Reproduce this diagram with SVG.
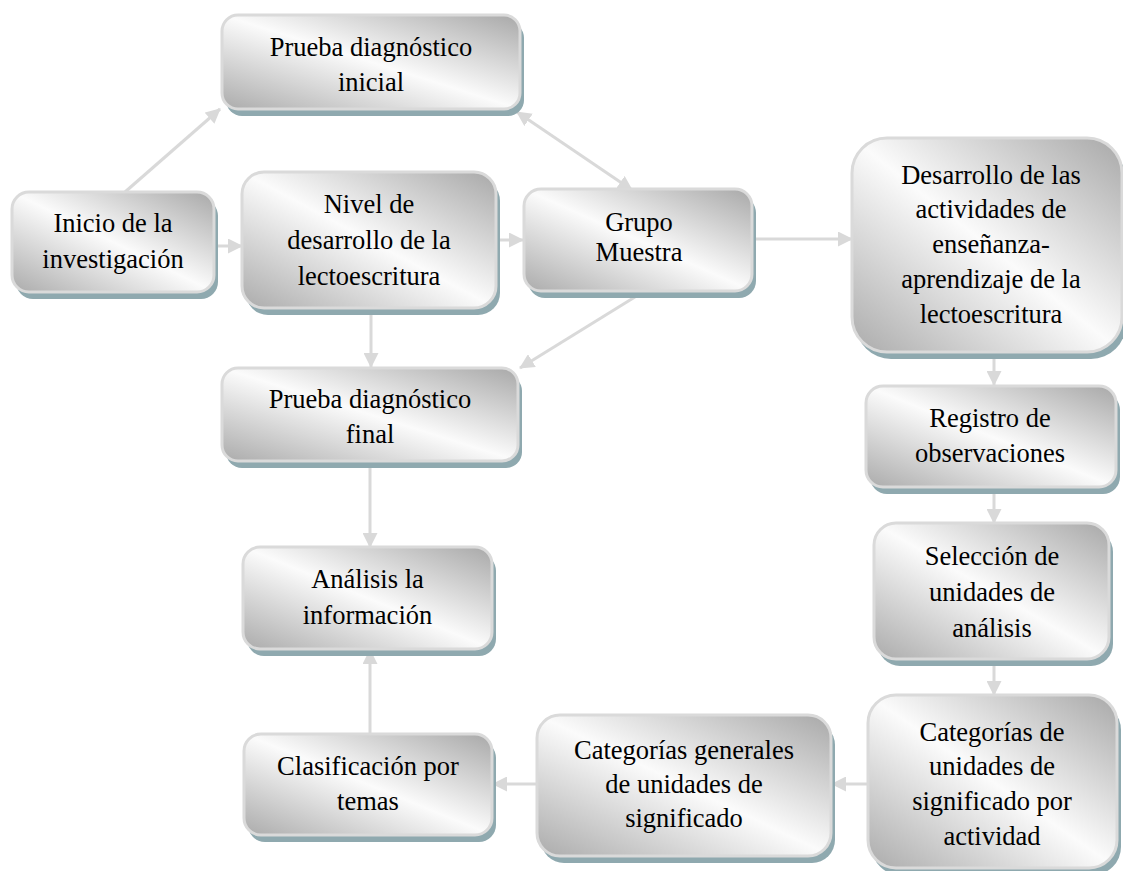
<svg xmlns="http://www.w3.org/2000/svg" width="1123" height="871" viewBox="0 0 1123 871">
<defs>
<linearGradient id="g" x1="1" y1="0" x2="0" y2="1">
<stop offset="0" stop-color="#a8a8a8"/>
<stop offset="0.5" stop-color="#fbfbfb"/>
<stop offset="1" stop-color="#ababab"/>
</linearGradient>
<marker id="ah" markerUnits="userSpaceOnUse" markerWidth="15" markerHeight="15" refX="14" refY="7.5" orient="auto-start-reverse" viewBox="0 0 15 15">
<path d="M0,0 L15,7.5 L0,15 z" fill="#d9d9d9"/>
</marker>
</defs>
<style>
.sh{fill:#8fa9af}
.bx{fill:url(#g);stroke:#dadada;stroke-width:3}
.t{font-size:26.5px;fill:#000;text-anchor:middle}
.c path{fill:none;stroke:#d9d9d9;stroke-width:3;marker-end:url(#ah)}
</style>
<rect width="1123" height="871" fill="#fff"/>
<g class="c" id="connectors">
<path d="M125,192 L220,109"/>
<path d="M214,246 L242,246"/>
<path d="M497,240 L523,240"/>
<path d="M753,239 L852,239"/>
<path d="M517,112 L632,190" marker-start="url(#ah)"/>
<path d="M643,292 L520,368"/>
<path d="M371,309 L371,367"/>
<path d="M370,462 L370,547"/>
<path d="M370,733 L370,650"/>
<path d="M994,353 L994,385"/>
<path d="M994,488 L994,523"/>
<path d="M994,660 L994,695"/>
<path d="M868,784 L832,784"/>
<path d="M537,784 L493,784"/>
</g>
<g id="nodes" font-family="Liberation Serif, Times New Roman, serif">
<g id="n1"><rect class="sh" x="226" y="22" width="298" height="94" rx="16"/><rect class="bx" x="222" y="15" width="298" height="94" rx="16"/>
<text class="t"><tspan x="371" y="56">Prueba diagnóstico</tspan><tspan x="371" y="91">inicial</tspan></text></g>
<g id="n2"><rect class="sh" x="16" y="199" width="202" height="100" rx="17"/><rect class="bx" x="12" y="192" width="202" height="100" rx="17"/>
<text class="t"><tspan x="113" y="232">Inicio de la</tspan><tspan x="113" y="268">investigación</tspan></text></g>
<g id="n3"><rect class="sh" x="246" y="179" width="254" height="136" rx="22"/><rect class="bx" x="242" y="172" width="254" height="136" rx="22"/>
<text class="t"><tspan x="369" y="213">Nivel de</tspan><tspan x="369" y="249">desarrollo de la</tspan><tspan x="369" y="285">lectoescritura</tspan></text></g>
<g id="n4"><rect class="sh" x="528" y="196" width="228" height="102" rx="17"/><rect class="bx" x="524" y="189" width="228" height="102" rx="17"/>
<text class="t"><tspan x="639" y="231">Grupo</tspan><tspan x="639" y="261">Muestra</tspan></text></g>
<g id="n5"><rect class="sh" x="856" y="145" width="270" height="214" rx="35"/><rect class="bx" x="852" y="138" width="270" height="214" rx="35"/>
<text class="t"><tspan x="991" y="184">Desarrollo de las</tspan><tspan x="991" y="218">actividades de</tspan><tspan x="991" y="253">enseñanza-</tspan><tspan x="991" y="288">aprendizaje de la</tspan><tspan x="991" y="323">lectoescritura</tspan></text></g>
<g id="n6"><rect class="sh" x="870" y="393" width="250" height="101" rx="17"/><rect class="bx" x="866" y="386" width="250" height="101" rx="17"/>
<text class="t"><tspan x="990" y="427">Registro de</tspan><tspan x="990" y="462">observaciones</tspan></text></g>
<g id="n7"><rect class="sh" x="878" y="530" width="235" height="136" rx="22"/><rect class="bx" x="874" y="523" width="235" height="136" rx="22"/>
<text class="t"><tspan x="992" y="565">Selección de</tspan><tspan x="992" y="601">unidades de</tspan><tspan x="992" y="637">análisis</tspan></text></g>
<g id="n8"><rect class="sh" x="872" y="702" width="249" height="173" rx="28"/><rect class="bx" x="868" y="695" width="249" height="173" rx="28"/>
<text class="t"><tspan x="992" y="741">Categorías de</tspan><tspan x="992" y="775">unidades de</tspan><tspan x="992" y="810">significado por</tspan><tspan x="992" y="845">actividad</tspan></text></g>
<g id="n9"><rect class="sh" x="541" y="722" width="294" height="141" rx="23"/><rect class="bx" x="537" y="715" width="294" height="141" rx="23"/>
<text class="t"><tspan x="684" y="759">Categorías generales</tspan><tspan x="684" y="793">de unidades de</tspan><tspan x="684" y="827">significado</tspan></text></g>
<g id="n10"><rect class="sh" x="248" y="741" width="248" height="101" rx="17"/><rect class="bx" x="244" y="734" width="248" height="101" rx="17"/>
<text class="t"><tspan x="368" y="775">Clasificación por</tspan><tspan x="368" y="810">temas</tspan></text></g>
<g id="n11"><rect class="sh" x="247" y="554" width="249" height="102" rx="17"/><rect class="bx" x="243" y="547" width="249" height="102" rx="17"/>
<text class="t"><tspan x="367.5" y="588">Análisis la</tspan><tspan x="367.5" y="624">información</tspan></text></g>
<g id="n12"><rect class="sh" x="226" y="375" width="296" height="93" rx="16"/><rect class="bx" x="222" y="368" width="296" height="93" rx="16"/>
<text class="t"><tspan x="370" y="408">Prueba diagnóstico</tspan><tspan x="370" y="443">final</tspan></text></g>
</g>
</svg>
